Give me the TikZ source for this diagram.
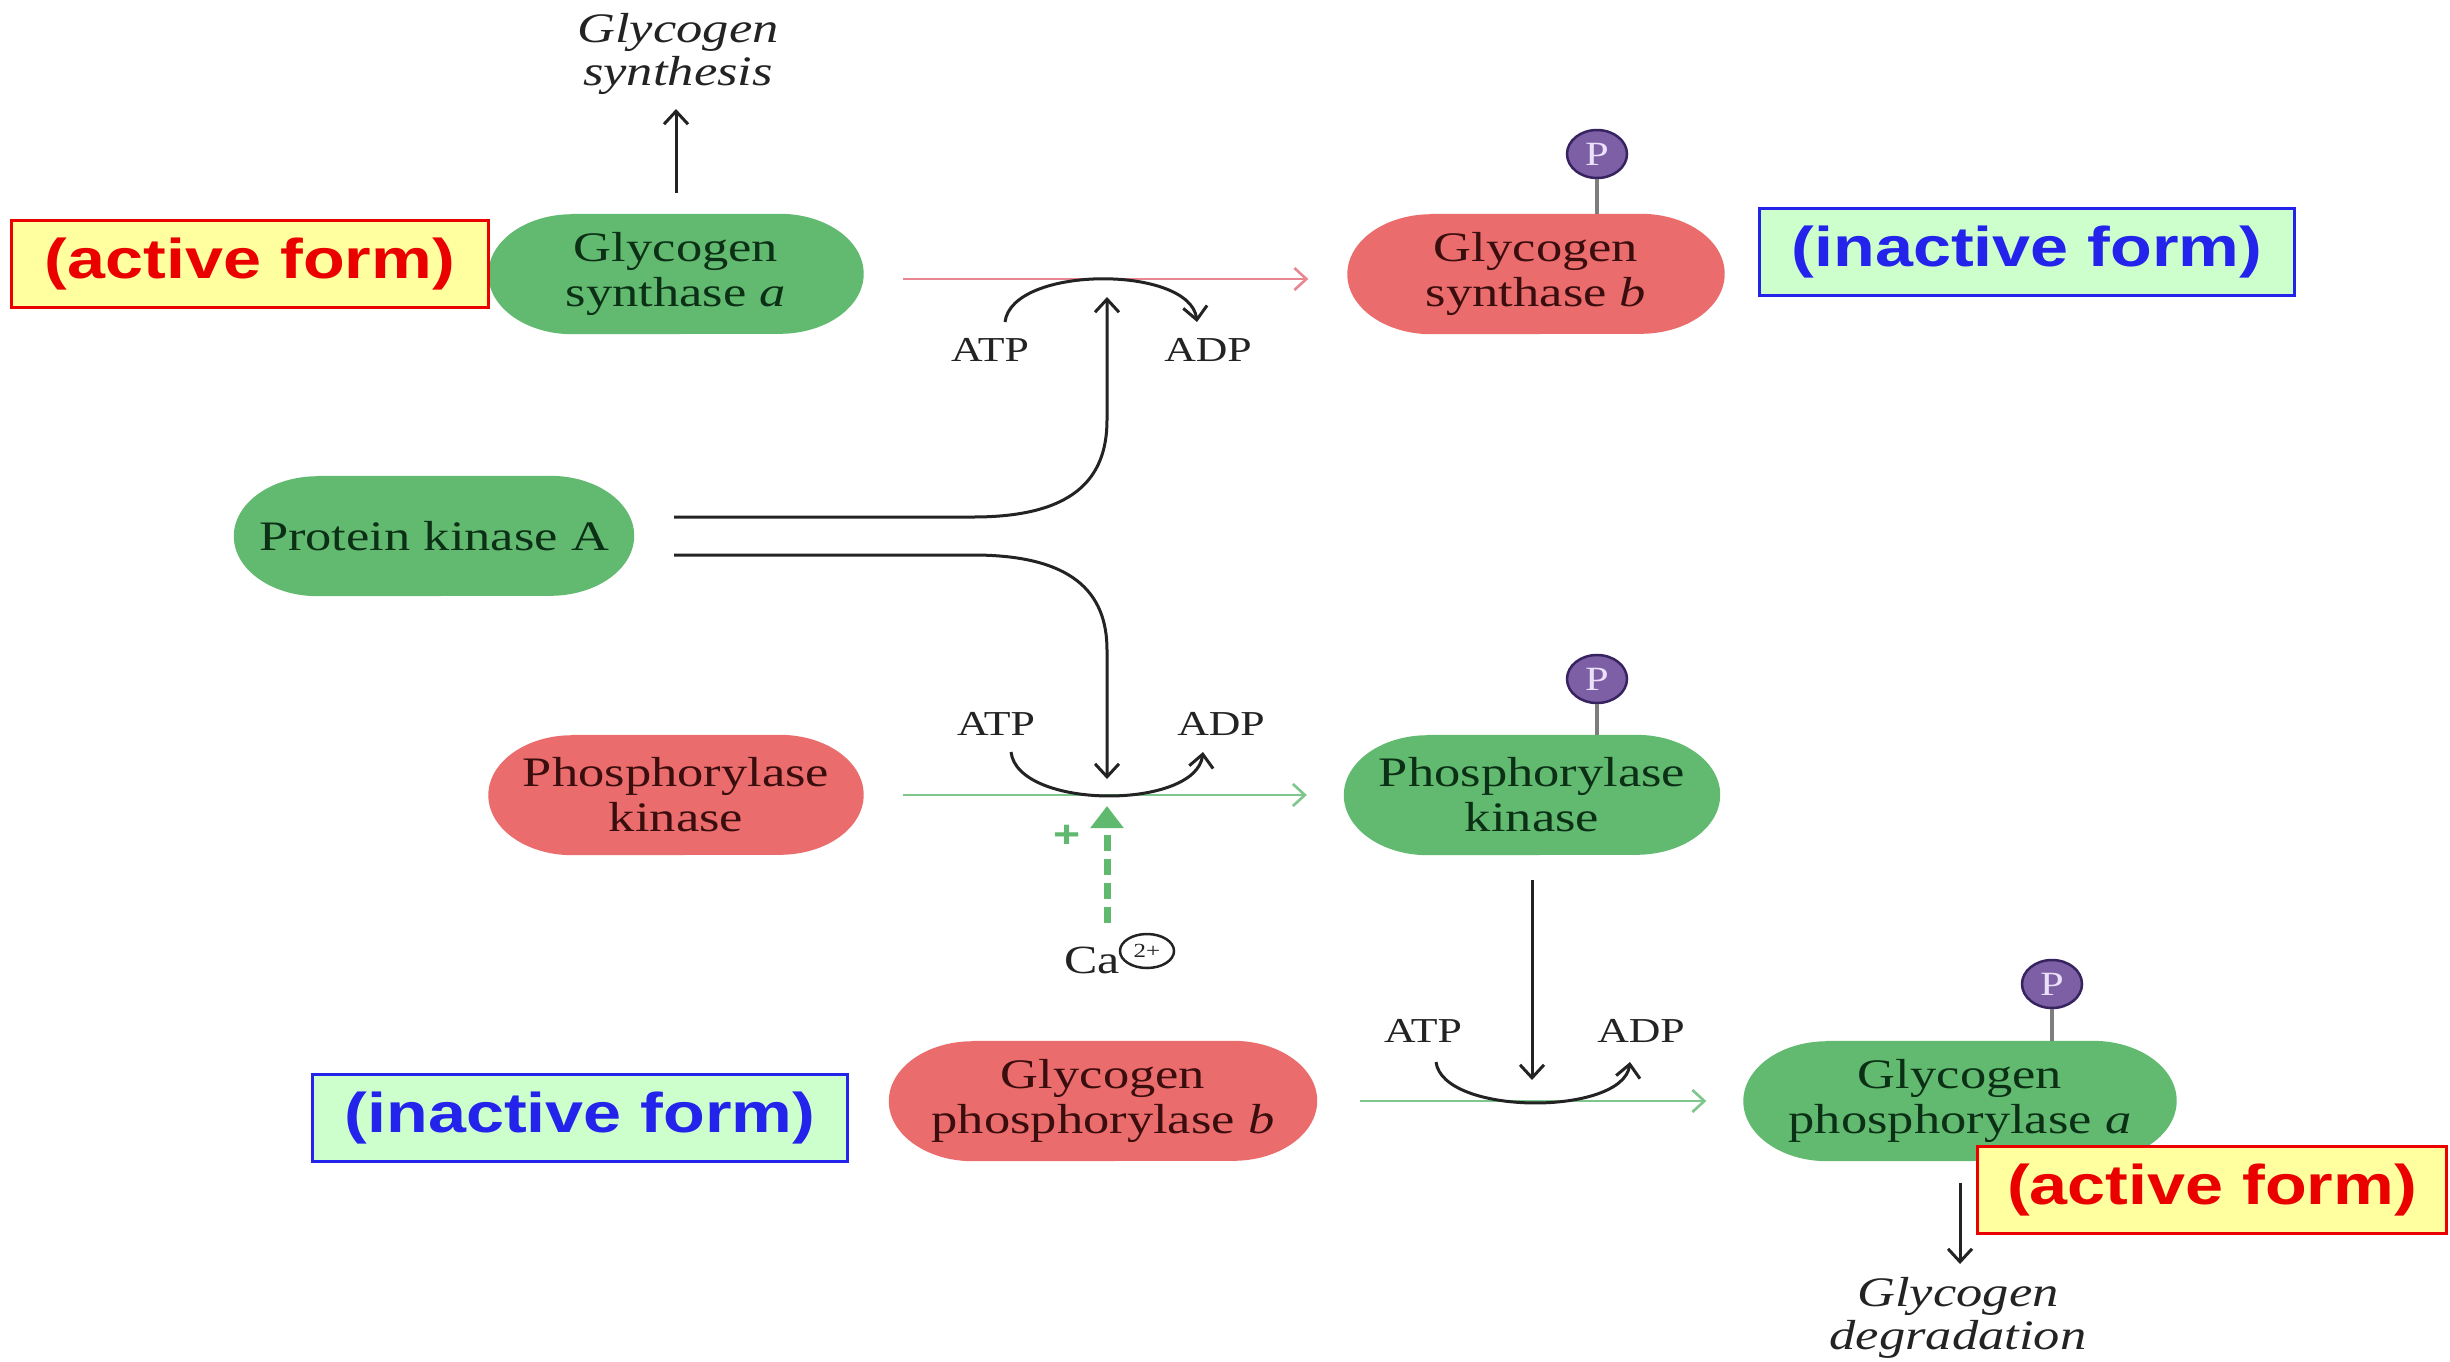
\documentclass[tikz,border=0pt]{standalone}
\usepackage{fontspec}
\setmainfont{Liberation Serif}[FakeStretch=1.25]
\newfontfamily\lsans{Liberation Sans}[FakeStretch=1.22]
\usetikzlibrary{arrows.meta,calc,shapes.geometric}
\definecolor{gfill}{RGB}{98,186,112}
\definecolor{rfill}{RGB}{235,108,108}
\definecolor{gtext}{RGB}{12,48,22}
\definecolor{rtext}{RGB}{58,14,14}
\definecolor{yfill}{RGB}{255,255,160}
\definecolor{lred}{RGB}{235,0,0}
\definecolor{ifill}{RGB}{205,255,205}
\definecolor{lblue}{RGB}{35,35,235}
\definecolor{pfill}{RGB}{125,95,165}
\definecolor{pdraw}{RGB}{55,35,95}
\definecolor{stemc}{RGB}{125,125,125}
\definecolor{rline}{RGB}{232,135,145}
\definecolor{gline}{RGB}{125,198,140}
\definecolor{gdash}{RGB}{95,185,110}
\definecolor{inkc}{RGB}{35,35,35}
\pgfdeclarelayer{bg}
\pgfsetlayers{bg,main}
\newcommand\pill[2]{%
 \begin{pgfonlayer}{bg}
 \fill[#2] ([xshift=84pt]#1.north west) -- ([xshift=-84pt]#1.north east)
   arc[start angle=90,end angle=-90,x radius=84pt,y radius=60pt]
   -- ([xshift=84pt]#1.south west)
   arc[start angle=270,end angle=90,x radius=84pt,y radius=60pt] -- cycle;
 \end{pgfonlayer}}
\tikzset{
 enz/.style={rectangle, minimum width=#1, minimum height=120pt, inner sep=0pt,
   align=center, font=\fontsize{42}{45}\selectfont},
 lbl/.style={rectangle, line width=3.5pt, inner sep=0pt, minimum width=#1,
   minimum height=87pt, font=\lsans\bfseries\fontsize{56}{60}\selectfont},
 actbox/.style={lbl=#1, fill=yfill, draw=lred, text=lred},
 inactbox/.style={lbl=#1, fill=ifill, draw=lblue, text=lblue},
 ital/.style={align=center, text=inkc, font=\itshape\fontsize{42}{43}\selectfont},
 small/.style={text=inkc, font=\fontsize{35}{38}\selectfont},
 blk/.style={draw=inkc, line width=3pt, -{Straight Barb[length=13pt,width=24pt]}},
 rl/.style={draw=rline, line width=2.6pt, -{Straight Barb[length=12pt,width=22pt]}},
 gl/.style={draw=gline, line width=2.6pt, -{Straight Barb[length=12pt,width=22pt]}},
 pmark/.style={ellipse, minimum width=60pt, minimum height=48pt, inner sep=0pt,
   fill=pfill, draw=pdraw, line width=2.5pt, text={rgb,255:red,235;green,225;blue,250},
   font=\fontsize{34}{34}\selectfont},
 stemline/.style={draw=stemc, line width=4pt},
}
\begin{document}
\begin{tikzpicture}[x=1pt,y=-1pt]
\begin{pgfonlayer}{bg}
\fill[white] (0,0) rectangle (2450,1361);
\end{pgfonlayer}
\useasboundingbox (0,0) rectangle (2450,1361);

% enzymes
\node[enz=375pt, text=gtext] (sa) at (676,274) {Glycogen\\synthase \textit{a}};
\node[enz=377pt, text=rtext] (sb) at (1536,274) {Glycogen\\synthase \textit{b}};
\node[enz=400pt, text=gtext] (pka) at (434,536) {Protein kinase A};
\node[enz=375pt, text=rtext] (pki) at (676,795) {Phosphorylase\\kinase};
\node[enz=376pt, text=gtext] (pkb) at (1532,795) {Phosphorylase\\kinase};
\node[enz=428pt, text=rtext] (gpb) at (1103,1101) {Glycogen\\phosphorylase \textit{b}};
\node[enz=433pt, text=gtext] (gpa) at (1960,1101) {Glycogen\\phosphorylase \textit{a}};
\pill{sa}{gfill}
\pill{sb}{rfill}
\pill{pka}{gfill}
\pill{pki}{rfill}
\pill{pkb}{gfill}
\pill{gpb}{rfill}
\pill{gpa}{gfill}

% phosphate marks
\node[pmark] (p1) at (1597,154) {P};
\node[pmark] (p2) at (1597,679) {P};
\node[pmark] (p3) at (2052,984) {P};
\draw[stemline] (p1.south) -- (p1.south |- sb.north);
\draw[stemline] (p2.south) -- (p2.south |- pkb.north);
\draw[stemline] (p3.south) -- (p3.south |- gpa.north);

% outcome labels
\node[ital] (syn) at (678,54) {Glycogen\\synthesis};
\node[ital] (deg) at (1958,1318) {Glycogen\\degradation};
\coordinate (syntip) at (678,109);
\coordinate (degtip) at (1960,1264);
\draw[blk, shorten <=21pt] (sa.north) -- (sa.north |- syntip);
\draw[blk, shorten <=22pt] (gpa.south) -- (degtip);

% conversion lines
\draw[rl, shorten <=39pt, shorten >=39pt] ([yshift=-5pt]sa.east) -- ([yshift=-5pt]sb.west);
\draw[gl, shorten <=39pt, shorten >=37pt] (pki.east) -- (pkb.west);
\draw[gl, shorten <=43pt, shorten >=37pt] (gpb.east) -- (gpa.west);

% ATP / ADP
\node[small] (atp1) at (990,350) {ATP};
\node[small] (adp1) at (1208,350) {ADP};
\node[small] (atp2) at (996,724) {ATP};
\node[small] (adp2) at (1221,724) {ADP};
\node[small] (atp3) at (1423,1031) {ATP};
\node[small] (adp3) at (1641,1031) {ADP};
\coordinate (r1s) at (1005,322); \coordinate (r1e) at (1197,322);
\coordinate (r2s) at (1011,752); \coordinate (r2e) at (1203,752);
\coordinate (r3s) at (1436,1062); \coordinate (r3e) at (1630,1062);
\draw[blk] (r1s) .. controls (1012,265) and (1190,265) .. (r1e);
\draw[blk] (r2s) .. controls (1018,810) and (1196,810) .. (r2e);
\draw[blk] (r3s) .. controls (1443,1116) and (1623,1116) .. (r3e);

% protein kinase A actions
\coordinate (k1tip) at (1107,297);
\coordinate (k2tip) at (1107,779);
\draw[blk] ([xshift=40pt,yshift=19pt]pka.east) -- (973,517)
   .. controls (1072,517) and (1107,480) .. (1107,420) -- (k1tip);
\draw[blk] ([xshift=40pt,yshift=-19pt]pka.east) -- (973,555)
   .. controls (1072,555) and (1107,592) .. (1107,650) -- (k2tip);

% phosphorylase kinase action
\coordinate (k3tip) at (1532,1080);
\draw[blk, shorten <=25pt] (pkb.south) -- (k3tip);

% calcium
\node[text=inkc, font=\fontsize{40}{42}\selectfont] (ca) at (1092,960) {Ca};
\node[ellipse, draw=inkc, line width=2.5pt, minimum width=54pt, minimum height=34pt,
   inner sep=0pt, text=inkc, font=\fontsize{20}{20}\selectfont] (chg) at (1147,951) {2+};
\coordinate (cabase) at (1107,923);
\coordinate (catip) at (1107,806);
\draw[draw=gdash, line width=7pt, dash pattern=on 16pt off 8pt,
   -{Triangle[length=22pt,width=32pt,fill=gdash]}] (cabase) -- (catip);
\node[text=gdash, font=\lsans\bfseries\fontsize{38}{38}\selectfont] (plus) at (1067,836) {+};

% form labels
\node[actbox=477pt] (act1) at (250,264) {(active form)};
\node[inactbox=535pt] (inact1) at (2027,252) {(inactive form)};
\node[inactbox=535pt] (inact2) at (580,1118) {(inactive form)};
\node[actbox=469pt] (act2) at (2212,1190) {(active form)};
\end{tikzpicture}
\end{document}
